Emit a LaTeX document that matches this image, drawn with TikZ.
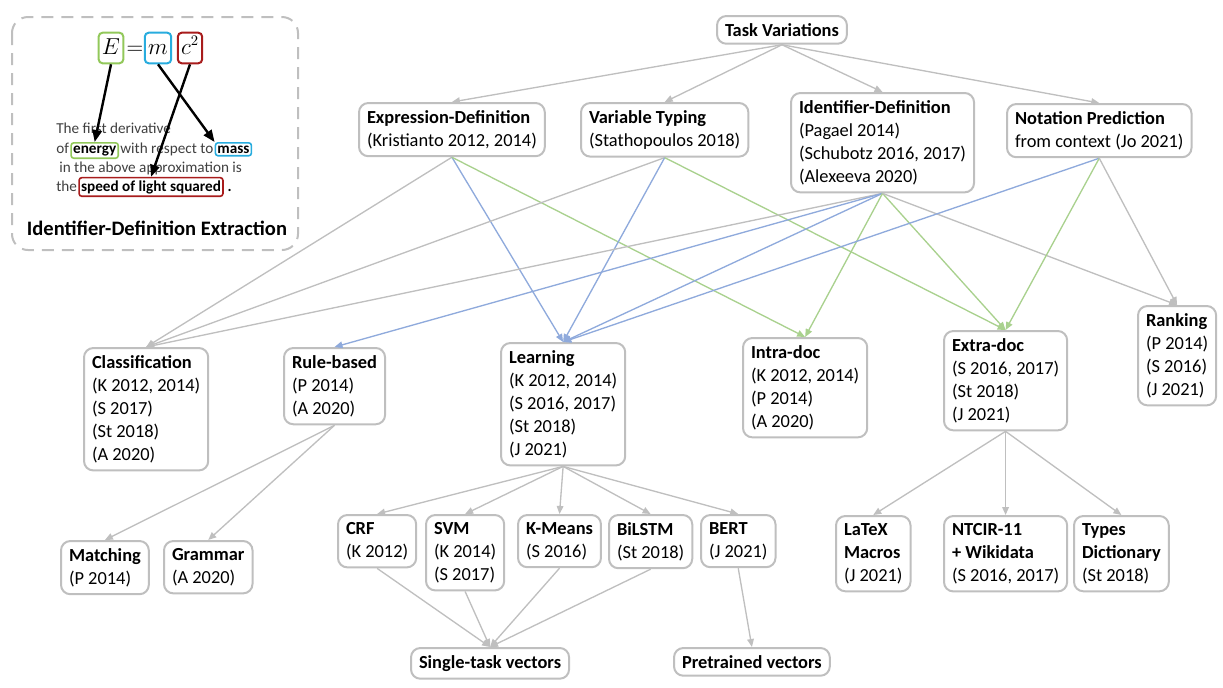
\documentclass[tikz,border=0pt]{standalone}
\usepackage{fontspec}
\setmainfont{Carlito}
\usetikzlibrary{arrows.meta,positioning}
\definecolor{boxgray}{RGB}{191,191,191}
\definecolor{edgegray}{RGB}{191,191,191}
\definecolor{edgeblue}{RGB}{143,170,220}
\definecolor{edgegreen}{RGB}{169,209,142}
\definecolor{eqgreen}{RGB}{146,200,90}
\definecolor{eqblue}{RGB}{40,172,222}
\definecolor{eqred}{RGB}{168,28,28}
\definecolor{textgray}{RGB}{64,64,64}

\begin{document}
\begin{tikzpicture}[x=0.75pt,y=-0.75pt,
  tbox/.style={draw=boxgray,line width=1.5pt,rounded corners=7pt,fill=white,align=left,
    inner xsep=6pt,inner ysep=5.5pt,font=\fontsize{13.8}{17.3}\selectfont,anchor=north west},
  gline/.style={draw=edgegray,line width=1pt,-{Triangle[length=6pt,width=5pt]}},
  bline/.style={gline,draw=edgeblue},
  cline/.style={gline,draw=edgegreen},
  eqbox/.style={line width=1.5pt,rounded corners=3pt,inner xsep=2.5pt,inner ysep=3pt,
    text height=13pt,text depth=4pt,font=\fontsize{16}{18}\selectfont},
  ptxt/.style={inner xsep=0.8pt,inner ysep=0pt,text=textgray,font=\fontsize{11.4}{13}\selectfont,anchor=base west},
  wbox/.style={ptxt,text=black,line width=1.2pt,rounded corners=2pt,inner xsep=1.5pt,inner ysep=2pt,font=\bfseries\fontsize{11.4}{13}\selectfont},
  idarrow/.style={line width=1.8pt,-{Triangle[length=9pt,width=7pt]}}]
\useasboundingbox (0,0) rectangle (1223,687);

\draw[draw=boxgray,line width=1.5pt,rounded corners=12pt,dash pattern=on 9pt off 6pt] (12,17) rectangle (298,250);
\node[eqbox,draw=eqgreen] (eqE) at (111,48) {$E$};
\node[eqbox] (eqeq) at (135,48) {$=$};
\node[eqbox,draw=eqblue] (eqm) at (158,48) {$m$};
\node[eqbox,draw=eqred] (eqc) at (190,48) {$c^2$};
\node[ptxt] (ln1) at (55,133) {The first derivative};
\node[ptxt] (ln2a) at (55,153) {of};
\node[wbox,draw=eqgreen] (energy) at (ln2a.base east) {energy};
\node[ptxt] (ln2b) at (energy.base east) {with respect to};
\node[wbox,draw=eqblue] (mass) at (ln2b.base east) {mass};
\node[ptxt] (ln3) at (58,172) {in the above approximation is};
\node[ptxt] (ln4a) at (55,191) {the};
\node[wbox,draw=eqred] (speed) at (ln4a.base east) {speed of light squared};
\node[ptxt,text=black] (ln4b) at (speed.base east) {\,\textbf{.}};
\draw[idarrow] (eqE.south) -- (energy.north);
\draw[idarrow] (eqm.south) -- (mass.north west);
\draw[idarrow] (eqc.south) -- (speed.north);
\node[font=\bfseries\fontsize{15.4}{18}\selectfont] (extraction) at (157,228) {Identifier-Definition Extraction};

\node[tbox] (task) at (716,15) {\textbf{Task Variations}};
\node[tbox] (expr) at (358,102) {\textbf{Expression-Definition}\\(Kristianto 2012, 2014)};
\node[tbox] (vtyp) at (580,102) {\textbf{Variable Typing}\\(Stathopoulos 2018)};
\node[tbox] (iddef) at (790,92) {\textbf{Identifier-Definition}\\(Pagael 2014)\\(Schubotz 2016, 2017)\\(Alexeeva 2020)};
\node[tbox] (npred) at (1006,103) {\textbf{Notation Prediction}\\from context (Jo 2021)};

\node[tbox] (class) at (83,347) {\textbf{Classification}\\(K 2012, 2014)\\(S 2017)\\(St 2018)\\(A 2020)};
\node[tbox] (rule) at (283,347) {\textbf{Rule-based}\\(P 2014)\\(A 2020)};
\node[tbox] (learn) at (500,342) {\textbf{Learning}\\(K 2012, 2014)\\(S 2016, 2017)\\(St 2018)\\(J 2021)};
\node[tbox] (intra) at (742,337) {\textbf{Intra-doc}\\(K 2012, 2014)\\(P 2014)\\(A 2020)};
\node[tbox] (extra) at (943,330) {\textbf{Extra-doc}\\(S 2016, 2017)\\(St 2018)\\(J 2021)};
\node[tbox] (rank) at (1137,305) {\textbf{Ranking}\\(P 2014)\\(S 2016)\\(J 2021)};

\node[tbox] (match) at (60,540) {\textbf{Matching}\\(P 2014)};
\node[tbox] (gram) at (163,540) {\textbf{Grammar}\\(A 2020)};
\node[tbox] (crf) at (337,514) {\textbf{CRF}\\(K 2012)};
\node[tbox] (svm) at (425,514) {\textbf{SVM}\\(K 2014)\\(S 2017)};
\node[tbox] (kmeans) at (517,514) {\textbf{K-Means}\\(S 2016)};
\node[tbox] (bilstm) at (608,514) {\textbf{BiLSTM}\\(St 2018)};
\node[tbox] (bert) at (700,514) {\textbf{BERT}\\(J 2021)};
\node[tbox] (latex) at (835,515) {\textbf{LaTeX}\\\textbf{Macros}\\(J 2021)};
\node[tbox] (ntcir) at (943,515) {\textbf{NTCIR-11}\\\textbf{+ Wikidata}\\(S 2016, 2017)};
\node[tbox] (types) at (1073,515) {\textbf{Types}\\\textbf{Dictionary}\\(St 2018)};
\node[tbox] (single) at (410,647) {\textbf{Single-task vectors}};
\node[tbox] (pretr) at (673,647) {\textbf{Pretrained vectors}};

\draw[gline] (task.south) -- (expr.north);
\draw[gline] (task.south) -- (vtyp.north);
\draw[gline] (task.south) -- (iddef.north);
\draw[gline] (task.south) -- (npred.north);

\draw[gline] (expr.south) -- (class.north);
\draw[bline] (expr.south) -- (learn.north);
\draw[cline] (expr.south) -- (intra.north);
\draw[gline] (vtyp.south) -- (class.north);
\draw[bline] (vtyp.south) -- (learn.north);
\draw[cline] (vtyp.south) -- (extra.north);
\draw[gline] (iddef.south) -- (class.north);
\draw[bline] (iddef.south) -- (rule.north);
\draw[bline] (iddef.south) -- (learn.north);
\draw[cline] (iddef.south) -- (intra.north);
\draw[cline] (iddef.south) -- (extra.north);
\draw[gline] (iddef.south) -- (rank.north);
\draw[bline] (npred.south) -- (learn.north);
\draw[cline] (npred.south) -- (extra.north);
\draw[gline] (npred.south) -- (rank.north);

\draw[gline] (rule.south) -- (match.north);
\draw[gline] (rule.south) -- (gram.north);
\draw[gline] (learn.south) -- (crf.north);
\draw[gline] (learn.south) -- (svm.north);
\draw[gline] (learn.south) -- (kmeans.north);
\draw[gline] (learn.south) -- (bilstm.north);
\draw[gline] (learn.south) -- (bert.north);
\draw[gline] (extra.south) -- (latex.north);
\draw[gline] (extra.south) -- (ntcir.north);
\draw[gline] (extra.south) -- (types.north);

\draw[gline] (crf.south) -- (single.north);
\draw[gline] (svm.south) -- (single.north);
\draw[gline] (kmeans.south) -- (single.north);
\draw[gline] (bilstm.south) -- (single.north);
\draw[gline] (bert.south) -- (pretr.north);
\end{tikzpicture}
\end{document}
